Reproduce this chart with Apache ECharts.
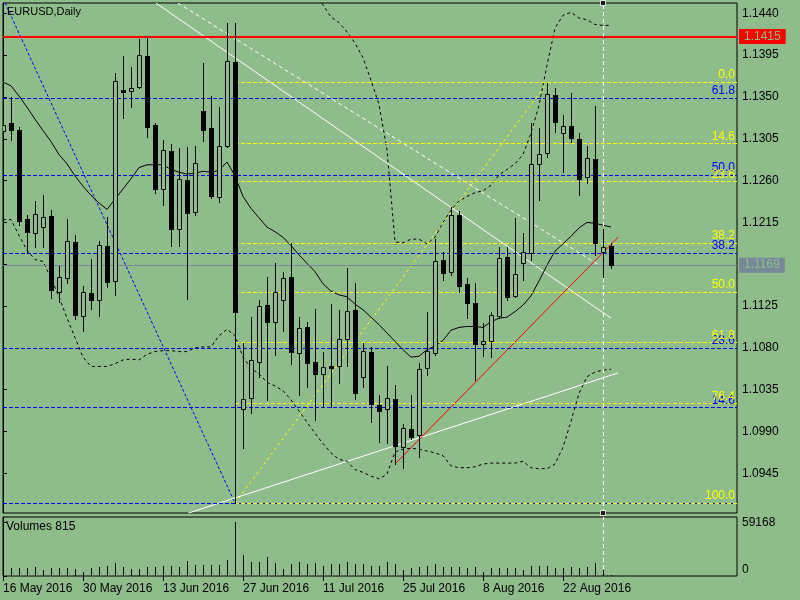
<!DOCTYPE html>
<html><head><meta charset="utf-8">
<script src="https://cdn.jsdelivr.net/npm/echarts@6/dist/echarts.min.js"></script>
<style>html,body{margin:0;padding:0;background:#8fbc8b;}#c{width:800px;height:600px;}</style>
</head><body><div id="c"></div>
<script>
const dates = ['16 May 2016','17 May 2016','18 May 2016','19 May 2016','20 May 2016',
'23 May 2016','24 May 2016','25 May 2016','26 May 2016','27 May 2016',
'30 May 2016','31 May 2016','1 Jun 2016','2 Jun 2016','3 Jun 2016',
'6 Jun 2016','7 Jun 2016','8 Jun 2016','9 Jun 2016','10 Jun 2016',
'13 Jun 2016','14 Jun 2016','15 Jun 2016','16 Jun 2016','17 Jun 2016',
'20 Jun 2016','21 Jun 2016','22 Jun 2016','23 Jun 2016','24 Jun 2016',
'27 Jun 2016','28 Jun 2016','29 Jun 2016','30 Jun 2016','1 Jul 2016',
'4 Jul 2016','5 Jul 2016','6 Jul 2016','7 Jul 2016','8 Jul 2016',
'11 Jul 2016','12 Jul 2016','13 Jul 2016','14 Jul 2016','15 Jul 2016',
'18 Jul 2016','19 Jul 2016','20 Jul 2016','21 Jul 2016','22 Jul 2016',
'25 Jul 2016','26 Jul 2016','27 Jul 2016','28 Jul 2016','29 Jul 2016',
'1 Aug 2016','2 Aug 2016','3 Aug 2016','4 Aug 2016','5 Aug 2016',
'8 Aug 2016','9 Aug 2016','10 Aug 2016','11 Aug 2016','12 Aug 2016',
'15 Aug 2016','16 Aug 2016','17 Aug 2016','18 Aug 2016','19 Aug 2016',
'22 Aug 2016','23 Aug 2016','24 Aug 2016','25 Aug 2016','26 Aug 2016',
'29 Aug 2016','30 Aug 2016'];

const opens = [1.1313,1.1322,1.1314,1.1219,1.1204,1.1210,1.1222,1.1140,1.1155,1.1194,
1.1114,1.1139,1.1132,1.1190,1.1152,1.1357,1.1356,1.1361,1.1394,1.1320,
1.1251,1.1292,1.1208,1.1261,1.1226,1.1335,1.1317,1.1242,1.1297,1.1388,
1.1014,1.1026,1.1065,1.1126,1.1108,1.1132,1.1156,1.1074,1.1102,1.1065,
1.1052,1.1061,1.1060,1.1090,1.1121,1.1049,1.1076,1.1019,1.1014,1.1025,
1.0973,1.0993,1.0986,1.1058,1.1075,1.1175,1.1162,1.1223,1.1149,1.1128,
1.1084,1.1087,1.1114,1.1178,1.1136,1.1171,1.1182,1.1278,1.1290,1.1352,
1.1311,1.1319,1.1305,1.1264,1.1283,1.1183,1.1190];
const highs = [1.1325,1.1350,1.1318,1.1223,1.1238,1.1245,1.1228,1.1168,1.1219,1.1201,
1.1147,1.1176,1.1195,1.1221,1.1376,1.1394,1.1382,1.1412,1.1416,1.1322,
1.1304,1.1299,1.1295,1.1296,1.1297,1.1386,1.1351,1.1339,1.1430,1.1430,
1.1085,1.1113,1.1132,1.1156,1.1171,1.1162,1.1193,1.1113,1.1108,1.1122,
1.1076,1.1127,1.1121,1.1166,1.1150,1.1085,1.1081,1.1029,1.1061,1.1040,
1.0998,1.1029,1.1064,1.1119,1.1197,1.1183,1.1232,1.1227,1.1155,1.1150,
1.1107,1.1119,1.1189,1.1189,1.1220,1.1204,1.1322,1.1317,1.1365,1.1360,
1.1331,1.1354,1.1311,1.1297,1.1340,1.1208,1.1193];
const lows = [1.1311,1.1304,1.1212,1.1182,1.1189,1.1189,1.1134,1.1129,1.1150,1.1111,
1.1098,1.1122,1.1114,1.1146,1.1137,1.1327,1.1339,1.1360,1.1307,1.1247,
1.1234,1.1190,1.1190,1.1133,1.1223,1.1303,1.1241,1.1237,1.1296,1.0913,
1.0972,1.1010,1.1049,1.1024,1.1072,1.1098,1.1063,1.1029,1.1038,1.1002,
1.1016,1.1016,1.1042,1.1061,1.1025,1.1038,1.1000,1.0979,1.0978,1.0955,
1.0951,1.0982,1.0963,1.1051,1.1072,1.1153,1.1158,1.1140,1.1112,1.1045,
1.1071,1.1070,1.1112,1.1132,1.1135,1.1153,1.1175,1.1239,1.1285,1.1312,
1.1269,1.1302,1.1245,1.1257,1.1180,1.1156,1.1166];
const closes = [1.1320,1.1314,1.1217,1.1205,1.1224,1.1221,1.1142,1.1156,1.1195,1.1115,
1.1140,1.1132,1.1191,1.1151,1.1367,1.1355,1.1360,1.1395,1.1318,1.1251,
1.1293,1.1208,1.1262,1.1225,1.1279,1.1314,1.1243,1.1297,1.1389,1.1119,
1.1025,1.1067,1.1125,1.1108,1.1140,1.1155,1.1076,1.1101,1.1064,1.1052,
1.1059,1.1058,1.1090,1.1120,1.1031,1.1077,1.1020,1.1012,1.1026,1.0974,
1.0994,1.0984,1.1057,1.1077,1.1173,1.1161,1.1223,1.1147,1.1128,1.1084,
1.1087,1.1115,1.1177,1.1135,1.1160,1.1183,1.1278,1.1289,1.1353,1.1323,
1.1319,1.1306,1.1262,1.1284,1.1193,1.1189,1.1169];
const volumes = [9500,9100,9100,9100,9500,6600,9100,8400,8400,7300,
4700,9100,10200,11000,14600,9500,7700,7700,9500,10200,
11000,11000,9500,16400,12100,12100,12100,12100,17500,59168,
23000,15000,15700,20500,14600,7300,12800,15000,13200,13900,
11000,13200,13200,15000,12800,12800,11000,11000,15700,13200,
6600,9100,10200,11000,13200,9500,9500,10200,9100,10200,
4700,9100,8400,9100,8400,6600,11000,11000,11000,8400,
9100,9500,8400,9500,14600,6600,815];

const bbUpper = [null,null,null,null,null,null,null,null,null,null,
null,null,null,null,null,null,null,null,null,null,
null,null,null,null,null,null,null,null,null,null,
null,null,null,null,null,null,null,null,1.1471,1.1460,
1.1449,1.1436,1.1430,1.1420,1.1408,1.1392,1.1368,1.1342,1.1293,1.1194,
1.1193,1.1197,1.1197,1.1192,1.1199,1.1215,1.1228,1.1238,1.1243,1.1247,
1.1249,1.1255,1.1266,1.1272,1.1278,1.1288,1.1311,1.1341,1.1384,1.1424,
1.1438,1.1441,1.1435,1.1433,1.1428,1.1427,1.1427];
const bbMiddle = [1.1366,1.1362,1.1351,1.1339,1.1326,1.1314,1.1302,1.1288,1.1278,1.1265,
1.1254,1.1244,1.1236,1.1229,1.1240,1.1251,1.1262,1.1274,1.1277,1.1277,
1.1277,1.1272,1.1269,1.1267,1.1268,1.1270,1.1269,1.1271,1.1280,1.1265,
1.1243,1.1230,1.1220,1.1210,1.1205,1.1199,1.1190,1.1180,1.1171,1.1162,
1.1149,1.1141,1.1137,1.1135,1.1127,1.1121,1.1113,1.1105,1.1096,1.1087,
1.1078,1.1070,1.1071,1.1078,1.1082,1.1088,1.1099,1.1102,1.1103,1.1103,
1.1102,1.1108,1.1112,1.1113,1.1119,1.1126,1.1136,1.1152,1.1169,1.1184,
1.1192,1.1200,1.1209,1.1215,1.1214,1.1212,1.1210];
const bbLower = [1.1218,1.1218,1.1201,1.1185,1.1175,1.1173,1.1155,1.1135,1.1112,1.1091,
1.1070,1.1060,1.1060,1.1060,1.1063,1.1067,1.1068,1.1067,1.1073,1.1076,
1.1077,1.1077,1.1076,1.1076,1.1080,1.1081,1.1081,1.1093,1.1100,1.1093,
1.1070,1.1058,1.1052,1.1043,1.1039,1.1034,1.1024,1.1012,1.1000,1.0988,
1.0977,1.0967,1.0960,1.0958,1.0949,1.0946,1.0942,1.0939,1.0944,1.0968,
1.0971,1.0972,1.0971,1.0969,1.0967,1.0964,1.0953,1.0951,1.0951,1.0952,
1.0955,1.0956,1.0956,1.0956,1.0956,1.0958,1.0951,1.0950,1.0950,1.0955,
1.0973,1.1001,1.1031,1.1049,1.1054,1.1056,1.1057];

const priceTicks = [1.0945,1.0990,1.1035,1.1080,1.1125,1.1170,1.1215,1.1260,1.1305,1.1350,1.1395,1.1440];
const priceLabels = [1.0945,1.0990,1.1035,1.1080,1.1125,1.1215,1.1260,1.1305,1.1350,1.1395,1.1440];
const volumeTicks = [0,59168];
const dateTickIdx = [0,10,20,30,40,50,60,70];

const yellowFibLabels = ['0.0','14.6','23.6','38.2','50.0','61.8','76.4','100.0'];
const yellowFibPrices = [1.1366,1.1300,1.1259,1.1193,1.1140,1.1086,1.1020,1.0913];
const yellowFibStart = 29;
const blueFibLabels = ['','14.6','23.6','38.2','50.0','61.8'];
const blueFibPrices = [1.0913,1.1016,1.1080,1.1182,1.1266,1.1349];

const resistanceLevel = 1.1415;
const lastPrice = 1.1169;
const markerBar = 75;

const blueDiag = [[0,1.1456],[29,1.0913]];
const whiteDown = [[19.125,1.1451],[76,1.1112]];
const whiteDashDown = [[21.875,1.1451],[74.5,1.1169]];
const whiteUp = [[23.125,1.0902],[76.875,1.1053]];
const redUp = [[49,1.0955],[76.875,1.1199]];
const yellowDiag = [[29,1.0913],[68,1.1365]];

const BG = '#8fbc8b';
const FONT = 'Liberation Sans';
const yMin = 1.09023, yMax = 1.14511, xMin = 0, xMax = 91.75;

const candleData = dates.map((d,i)=>[i, opens[i], closes[i], lows[i], highs[i]]);
const volData = volumes.map((v,i)=>[i, v]);
const idx = a => a.map((v,i)=>[i, v]);

function candleRender(params, api){
  const k = api.value(0), o = api.value(1), c = api.value(2), l = api.value(3), h = api.value(4);
  const pO = api.coord([k,o]), pC = api.coord([k,c]), pL = api.coord([k,l]), pH = api.coord([k,h]);
  const cx = Math.round(pO[0]);
  const top = Math.round(Math.min(pO[1], pC[1]));
  let bot = Math.round(Math.max(pO[1], pC[1]));
  if (bot - top < 1) bot = top + 1;
  const children = [{type:'line', shape:{x1:cx+0.5, y1:Math.round(pH[1]), x2:cx+0.5, y2:Math.round(pL[1])+1}, style:{stroke:'#000', lineWidth:1}}];
  if (c >= o) {
    children.push({type:'rect', shape:{x:cx-1.5, y:top+0.5, width:4, height:bot-top}, style:{fill:BG, stroke:'#000', lineWidth:1}});
  } else {
    children.push({type:'rect', shape:{x:cx-2, y:top, width:5, height:bot-top+1}, style:{fill:'#000'}});
  }
  return {type:'group', children};
}
function volRender(params, api){
  const k = api.value(0), v = api.value(1);
  const p = api.coord([k, v]), b = api.coord([k, 0]);
  const cx = Math.round(p[0]) + 0.5;
  return {type:'line', shape:{x1:cx, y1:Math.round(p[1]), x2:cx, y2:Math.round(b[1])}, style:{stroke:'#000', lineWidth:1}};
}
function trend(data, color, type){
  return {type:'line', xAxisIndex:0, yAxisIndex:0, data, symbol:'none', silent:true, z:3,
    lineStyle:{color, width:1, type}};
}
const fibLabel = (color) => ({show:true, position:'insideEndTop', distance:[2,1], color, fontSize:12, fontFamily:FONT, formatter:'{b}'});
const priceBoxLabel = (txt, fg, bg) => ({show:true, position:'end', distance:2, formatter:txt, color:fg, backgroundColor:bg, padding:[2,5,1,5], fontSize:12, fontFamily:FONT});

const chart = echarts.init(document.getElementById('c'), null, {renderer:'canvas'});
chart.setOption({
  animation:false,
  backgroundColor:BG,
  textStyle:{fontFamily:FONT},
  title:[
    {text:'EURUSD,Daily', left:7, top:6, padding:0, textStyle:{fontSize:11, fontWeight:'normal', color:'#000', fontFamily:FONT}},
    {text:'Volumes 815', left:6, top:521, padding:0, textStyle:{fontSize:12, fontWeight:'normal', color:'#000', fontFamily:FONT}}
  ],
  grid:[
    {left:3, right:63, top:3, bottom:87, show:true, borderColor:'#000', borderWidth:1, backgroundColor:'transparent'},
    {left:3, right:63, top:517, bottom:24, show:true, borderColor:'#000', borderWidth:1, backgroundColor:'transparent'}
  ],
  xAxis:[
    {type:'value', gridIndex:0, min:xMin, max:xMax, show:false},
    {type:'value', gridIndex:1, min:xMin, max:xMax, splitLine:{show:false},
     axisLine:{show:false},
     axisTick:{show:true, length:5, lineStyle:{color:'#000'}, customValues:dateTickIdx},
     axisLabel:{show:true, customValues:dateTickIdx, align:'left', margin:7, fontSize:12, color:'#000', fontFamily:FONT,
       formatter:v=>dates[Math.round(v)] || ''}}
  ],
  yAxis:[
    {type:'value', gridIndex:0, position:'right', min:yMin, max:yMax, splitLine:{show:false},
     axisLine:{show:true, lineStyle:{color:'#000'}},
     axisTick:{show:true, length:4, lineStyle:{color:'#000'}, customValues:priceTicks},
     axisLabel:{show:true, customValues:priceLabels, margin:5, fontSize:12, color:'#000', fontFamily:FONT,
       formatter:v=>v.toFixed(4)}},
    {type:'value', gridIndex:1, position:'right', min:0, max:64650, splitLine:{show:false},
     axisLine:{show:true, lineStyle:{color:'#000'}},
     axisTick:{show:true, length:4, lineStyle:{color:'#000'}, customValues:volumeTicks},
     axisLabel:{show:true, customValues:volumeTicks, margin:5, fontSize:12, color:'#000', fontFamily:FONT,
       formatter:v=> v===0 ? '{b|0}' : '{t|'+v+'}',
       rich:{b:{padding:[0,0,12,0], fontSize:12, fontFamily:FONT, color:'#000'}, t:{padding:[2,0,0,0], fontSize:12, fontFamily:FONT, color:'#000'}}}}
  ],
  series:[
    Object.assign(trend(blueDiag, '#0000ff', [3,2]), {
      markLine:{silent:true, symbol:['none','none'], animation:false,
        lineStyle:{color:'#0000ff', width:1, type:[4,2]},
        label:fibLabel('#0000ff'),
        data: blueFibPrices.map((p,i)=>[{name:blueFibLabels[i], coord:[xMin,p]},{coord:[xMax,p]}])}
    }),
    Object.assign(trend(yellowDiag, '#ffff00', [3,3]), {
      markLine:{silent:true, symbol:['none','none'], animation:false,
        lineStyle:{color:'#ffff00', width:1, type:[4,2]},
        label:fibLabel('#ffff00'),
        data: yellowFibPrices.map((p,i)=>[{name:yellowFibLabels[i], coord:[yellowFibStart,p]},{coord:[xMax,p]}])}
    }),
    Object.assign(trend(whiteDown, '#ffffff', 'solid'), {
      markLine:{silent:true, symbol:['none','none'], animation:false, z:4,
        data:[
          [{coord:[xMin,lastPrice], lineStyle:{color:'#778899', width:1, type:'solid'},
            label:priceBoxLabel(lastPrice.toFixed(4), BG, '#778899')},
           {coord:[xMax,lastPrice]}],
          [{coord:[xMin,resistanceLevel], lineStyle:{color:'#ff0000', width:2, type:'solid'},
            label:priceBoxLabel(resistanceLevel.toFixed(4), BG, '#ff0000')},
           {coord:[xMax,resistanceLevel]}]
        ]}
    }),
    trend(whiteDashDown, '#ffffff', [4,3]),
    trend(whiteUp, '#ffffff', 'solid'),
    trend(redUp, '#ff0000', 'solid'),
    {type:'line', xAxisIndex:0, yAxisIndex:0, data:idx(bbUpper), symbol:'none', silent:true, z:3, connectNulls:false,
     lineStyle:{color:'#000', width:1, type:[3,3]}},
    {type:'line', xAxisIndex:0, yAxisIndex:0, data:idx(bbMiddle), symbol:'none', silent:true, z:3,
     lineStyle:{color:'#000', width:1, type:'solid'}},
    {type:'line', xAxisIndex:0, yAxisIndex:0, data:idx(bbLower), symbol:'none', silent:true, z:3,
     lineStyle:{color:'#000', width:1, type:[3,3]}},
    {type:'custom', xAxisIndex:0, yAxisIndex:0, data:candleData, renderItem:candleRender, clip:true, z:5, silent:true,
     encode:{x:0, y:[1,2,3,4]},
     markLine:{silent:true, symbol:['none','none'], animation:false,
       lineStyle:{color:'#ffffff', width:1, type:[4,3]}, label:{show:false},
       data:[[{coord:[markerBar,yMin]},{coord:[markerBar,yMax]}]]}},
    {type:'scatter', xAxisIndex:0, yAxisIndex:0, data:[[markerBar,yMax],[markerBar,yMin]], symbol:'rect', symbolSize:5, silent:true, clip:false, z:6,
     itemStyle:{color:'#000', borderColor:'#fff', borderWidth:1}},
    {type:'custom', xAxisIndex:1, yAxisIndex:1, data:volData, renderItem:volRender, clip:true, z:5, silent:true,
     encode:{x:0, y:1},
     markLine:{silent:true, symbol:['none','none'], animation:false,
       lineStyle:{color:'#ffffff', width:1, type:[4,3]}, label:{show:false},
       data:[[{coord:[markerBar,0]},{coord:[markerBar,64650]}]]}}
  ]
});
</script></body></html>
